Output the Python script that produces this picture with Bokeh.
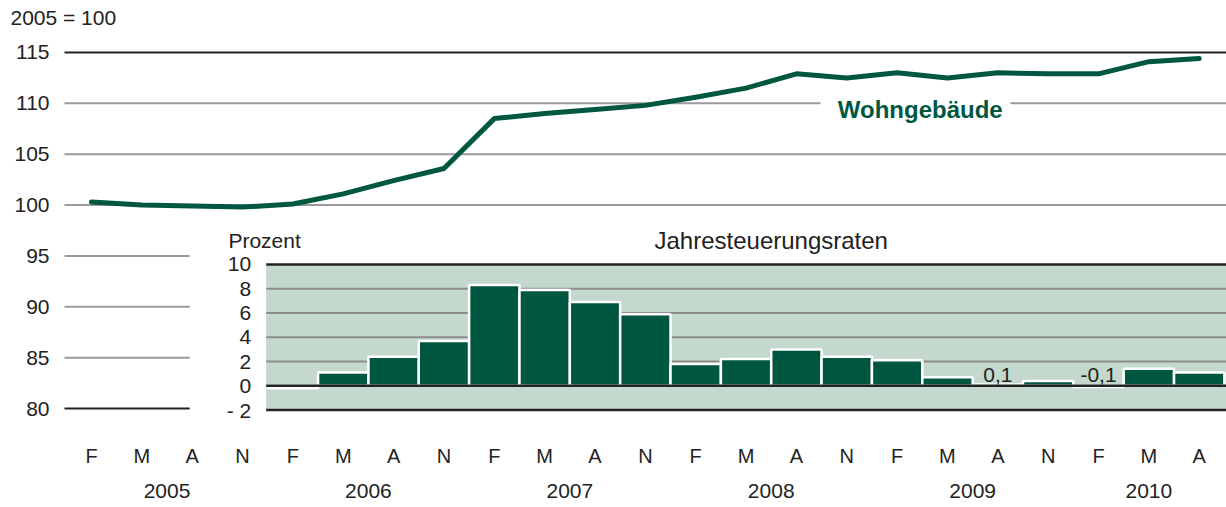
from bokeh.plotting import figure
from bokeh.models import Range1d
from bokeh.core.properties import value
from bokeh.embed import file_html
from bokeh.resources import INLINE

# ---------------- data ----------------
years = ["2005", "2006", "2007", "2008", "2009", "2010"]
months = ["F", "M", "A", "N"] * 5 + ["F", "M", "A"]
index_vals = [100.3, 100.0, 99.9, 99.8, 100.1, 101.1, 102.4, 103.6,
              108.5, 109.0, 109.4, 109.8, 110.6, 111.5, 112.9, 112.5,
              113.0, 112.5, 113.0, 112.9, 112.9, 114.1, 114.4]
# annual rates, starting with February 2006
rate_vals = [-0.2, 1.1, 2.4, 3.7, 8.3, 7.9, 6.9, 5.9, 1.8, 2.2, 3.0, 2.4,
             2.1, 0.7, 0.1, 0.4, -0.1, 1.4, 1.1]
rate_start = 4
labelled_rates = [14, 16]
main_ticks = [80, 85, 90, 95, 100, 105, 110, 115]
inset_ticks = [10, 8, 6, 4, 2, 0, -2]
inset_tick_labels = ["10", "8", "6", "4", "2", "0", "- 2"]
series_name = "Wohngebäude"
inset_title = "Jahresteuerungsraten"
inset_unit = "Prozent"
main_unit = "2005 = 100"

FONT = "Liberation Sans"
GREEN = "#00573f"
TXT = "#222222"
GRID = "#9a9a9a"

n = len(index_vals)
xs = list(range(n))

p = figure(width=1226, height=507, output_backend="svg", toolbar_location=None,
           x_range=Range1d(-1.807, 22.542), y_range=Range1d(70.27, 120.11),
           x_axis_location=None, y_axis_location=None,
           min_border_left=0, min_border_right=0, min_border_top=0, min_border_bottom=0)
p.extra_y_ranges = {"inset": Range1d(-10.03, 31.76)}
p.outline_line_color = None
p.background_fill_color = "white"
p.xgrid.visible = False
p.ygrid.visible = False

GL = -0.536      # left end of grid lines
GR = 23          # beyond right edge
CUT = 1.95       # lower grid lines stop before the inset

# main grid lines
full = [t for t in main_ticks if t > 95 and t < 115]
short = [t for t in main_ticks if 80 < t <= 95]
p.segment(x0=[GL] * len(full), x1=[GR] * len(full), y0=full, y1=full,
          line_color=GRID, line_width=2)
p.segment(x0=[GL] * len(short), x1=[CUT] * len(short), y0=short, y1=short,
          line_color=GRID, line_width=2)
p.segment(x0=[GL], x1=[GR], y0=[main_ticks[-1]], y1=[main_ticks[-1]],
          line_color=TXT, line_width=2)
p.segment(x0=[GL], x1=[CUT], y0=[main_ticks[0]], y1=[main_ticks[0]],
          line_color=TXT, line_width=2)

# main y tick labels
p.text(x=[GL] * len(main_ticks), y=main_ticks, text=[str(t) for t in main_ticks],
       x_offset=-15, text_align="right", text_baseline="middle",
       text_font=value(FONT), text_font_size="21px", text_color=TXT)
p.text(x=[-1.609], y=[118.39], text=[main_unit], text_align="left", text_baseline="middle",
       text_font=value(FONT), text_font_size="21px", text_color=TXT)

# inset background
IL = rate_start - 0.53
p.quad(left=IL, right=GR, bottom=inset_ticks[-1], top=inset_ticks[0],
       fill_color="#c5d8cd", line_color=None, y_range_name="inset")
grey_t = [t for t in inset_ticks if t not in (10, 0, -2)]
p.segment(x0=[IL] * len(grey_t), x1=[GR] * len(grey_t), y0=grey_t, y1=grey_t,
          line_color="#8c8c8c", line_width=2, y_range_name="inset")

bx = [rate_start + i for i in range(len(rate_vals))]
p.vbar(x=bx, top=rate_vals, bottom=0, width=1.0, fill_color=GREEN,
       line_color="white", line_width=2.5, y_range_name="inset")

blk_t = [10, 0, -2]
p.segment(x0=[IL] * 3, x1=[GR] * 3, y0=blk_t, y1=blk_t,
          line_color=TXT, line_width=2.5, y_range_name="inset")

p.text(x=[IL] * len(inset_ticks), y=inset_ticks, text=inset_tick_labels,
       x_offset=-15, text_align="right", text_baseline="middle",
       text_font=value(FONT), text_font_size="21px", text_color=TXT, y_range_name="inset")

p.text(x=[2.72], y=[11.98], text=[inset_unit], text_align="left", text_baseline="middle",
       text_font=value(FONT), text_font_size="21px", text_color=TXT, y_range_name="inset")
p.text(x=[13.5], y=[11.98], text=[inset_title], text_align="center", text_baseline="middle",
       text_font=value(FONT), text_font_size="24px", text_color=TXT, y_range_name="inset")

lab_x = [bx[i] for i in labelled_rates]
lab_t = [("%.1f" % rate_vals[i]).replace(".", ",") for i in labelled_rates]
p.text(x=lab_x, y=[0.89] * len(lab_x), text=lab_t, text_align="center", text_baseline="middle",
       text_font=value(FONT), text_font_size="21px", text_color=TXT, y_range_name="inset")

# main line
p.line(x=xs, y=index_vals, line_color=GREEN, line_width=5, line_cap="round", line_join="round")

# series label with white box over the grid line
p.quad(left=14.48, right=18.25, bottom=109.4, top=110.6, fill_color="white", line_color=None)
p.text(x=[16.46], y=[109.35], text=[series_name], text_align="center", text_baseline="middle",
       text_font=value(FONT), text_font_size="24px", text_font_style="bold", text_color=GREEN)

# x labels
p.text(x=xs, y=[75.3] * n, text=months, text_align="center", text_baseline="middle",
       text_font=value(FONT), text_font_size="20px", text_color=TXT)
year_x = [1.5, 5.5, 9.5, 13.5, 17.5, 21.0]
p.text(x=year_x, y=[71.93] * len(years), text=years, text_align="center", text_baseline="middle",
       text_font=value(FONT), text_font_size="21px", text_color=TXT)

open("out.html", "w").write(file_html(p, INLINE))
